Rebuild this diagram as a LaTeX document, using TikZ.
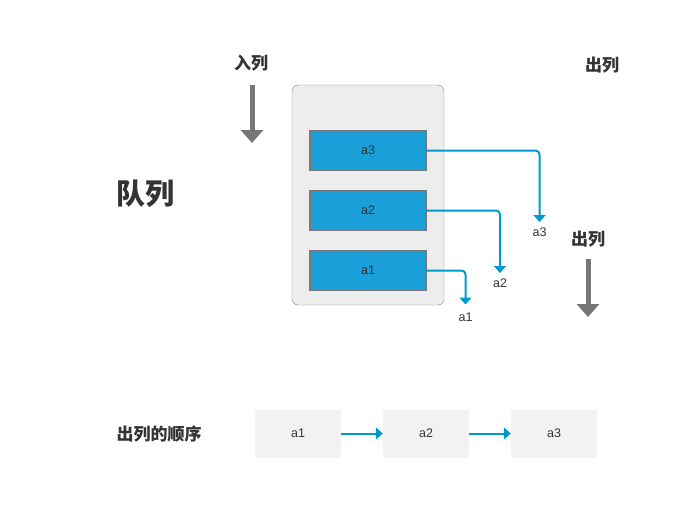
\documentclass[tikz,border=0pt]{standalone}
\usepackage{fontspec}
\setmainfont{Liberation Sans}
\newfontfamily\cjk{Noto Sans CJK SC}
\usetikzlibrary{arrows.meta}

\definecolor{qblue}{HTML}{1A9FD8}
\definecolor{qline}{HTML}{0099CC}
\definecolor{qgray}{HTML}{777777}
\definecolor{qtext}{HTML}{333333}

\begin{document}
\begin{tikzpicture}[x=1pt, y=-1pt,
    title/.style={font=\cjk\bfseries\fontsize{17}{19}\selectfont, text=qtext},
    elem/.style={draw=qgray, line width=1.3pt, fill=qblue, minimum width=116pt, minimum height=40pt, inner sep=0pt, font=\fontsize{12.5}{14}\selectfont, text=qtext},
    order/.style={fill=black!5, minimum width=86pt, minimum height=48pt, inner sep=0pt, font=\fontsize{12.5}{14}\selectfont, text=qtext},
    label/.style={font=\fontsize{12.5}{14}\selectfont, text=qtext, inner sep=1pt},
    flow/.style={qline, line width=2pt, rounded corners=4pt, -{Triangle[width=12pt,length=7pt]}},
    move/.style={qgray, line width=5pt, -{Triangle[width=22pt,length=13pt]}}]
    \useasboundingbox (0,0) rectangle (682,524);

    \node [title] (enq) at (251,63) {入列};
    \node [title] (deq) at (602,65) {出列};
    \node [title] (deq2) at (588,239) {出列};
    \node [title, font=\cjk\bfseries\fontsize{29}{31}\selectfont] (queue) at (145,194) {队列};
    \node [title] (seq) at (159,434) {出列的顺序};

    \coordinate (enqA) at (252,85);
    \coordinate (enqB) at (252,143);
    \draw [move] (enqA) -- (enqB);
    \coordinate (deqA) at (588,259);
    \coordinate (deqB) at (588,317);
    \draw [move] (deqA) -- (deqB);

    \node [draw=black!48, fill=black!7, rounded corners=6pt, minimum width=152pt, minimum height=220pt] (box) at (368,195) {};
    \node [elem] (a3) at (368,150.5) {a3};
    \node [elem] (a2) at (368,210.5) {a2};
    \node [elem] (a1) at (368,270.5) {a1};

    \coordinate (t3) at (539.5,222);
    \coordinate (t2) at (500,273);
    \coordinate (t1) at (465.5,304.5);
    \node [label] (o3) at (539.5,232.5) {a3};
    \node [label] (o2) at (500,283) {a2};
    \node [label] (o1) at (465.5,317.5) {a1};
    \draw [flow] (a3.east) -| (t3);
    \draw [flow] (a2.east) -| (t2);
    \draw [flow] (a1.east) -| (t1);

    \node [order] (s1) at (298,433.5) {a1};
    \node [order] (s2) at (426,433.5) {a2};
    \node [order] (s3) at (554,433.5) {a3};
    \draw [flow] (s1) -- (s2);
    \draw [flow] (s2) -- (s3);
\end{tikzpicture}
\end{document}
